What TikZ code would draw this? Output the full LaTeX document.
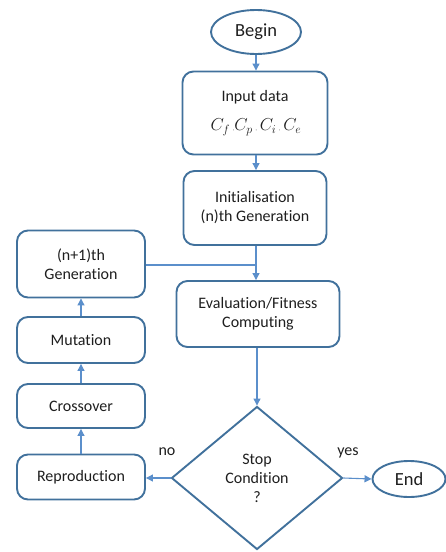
\documentclass[tikz,border=0pt]{standalone}
\usepackage{fontspec}
\setmainfont{Carlito}[Ligatures=NoCommon]
\usetikzlibrary{shapes.geometric,arrows.meta}
\definecolor{boxline}{HTML}{41719C}
\definecolor{flow}{HTML}{5B8FCB}
\definecolor{ink}{HTML}{1E1E1E}
\begin{document}
\begin{tikzpicture}[x=1pt,y=-1pt,
  every node/.style={text=ink, font=\fontsize{16}{19}\selectfont},
  procbox/.style={draw=boxline, line width=1.9pt, rounded corners=11pt, align=center, inner sep=0pt},
  terminal/.style={draw=boxline, line width=1.9pt, ellipse, inner sep=0pt, font=\fontsize{18.5}{22}\selectfont},
  decision/.style={draw=boxline, line width=1.9pt, diamond, inner sep=0pt, align=center},
  flowarrow/.style={draw=flow, line width=1.1pt, -{Triangle[length=7pt,width=7pt]}},
  flowline/.style={draw=flow, line width=1.1pt}]
\useasboundingbox (0,0) rectangle (445,552);

% terminals
\node[terminal, minimum width=90pt, minimum height=44pt] (begin) at (256,32) {Begin};
\node[terminal, minimum width=73pt, minimum height=36pt] (end) at (409,479) {End};

% main column
\node[procbox, minimum width=145pt, minimum height=83pt] (input) at (255,113) {};
\node at (255,97) {Input data};
\node[font=\fontsize{17}{20}\selectfont] at (256,127) {$C_f$\,{\tiny,}$C_p$\,{\tiny,}\,$C_i$\,{\tiny,}\,$C_e$};
\node[procbox, minimum width=143pt, minimum height=74pt] (init) at (255,208) {Initialisation\\(n)th Generation};
\node[procbox, minimum width=163pt, minimum height=66pt] (eval) at (258,314) {Evaluation/Fitness\\Computing};
\node[decision, minimum width=171pt, minimum height=143pt] (stop) at (257,478) {Stop\\Condition\\?};

% genetic operators column
\node[procbox, minimum width=128pt, minimum height=67pt] (nextgen) at (81,264) {(n+1)th\\Generation};
\node[procbox, minimum width=128pt, minimum height=46pt] (mut) at (81,340) {Mutation};
\node[procbox, minimum width=128pt, minimum height=44pt] (cross) at (81,406) {Crossover};
\node[procbox, minimum width=128pt, minimum height=45pt] (repro) at (81,477) {Reproduction};

% connectors
\draw[flowarrow] (begin.south) -- (input.north -| begin.south);
\draw[flowarrow] (input.south -| 256,0) -- (init.north -| 256,0);
\coordinate (join) at (256,265);
\draw[flowarrow] (init.south -| join) -- (eval.north -| join);
\draw[flowline] (nextgen.east |- join) -- (join);
\draw[flowarrow] (eval.south -| stop.north) -- (stop.north);
\draw[flowarrow] (stop.east) -- (end.west);
\draw[flowarrow] (stop.west) -- (repro.east |- stop.west);
\draw[flowarrow] (repro.north) -- (cross.south);
\draw[flowarrow] (cross.north) -- (mut.south);
\draw[flowarrow] (mut.north) -- (nextgen.south);

% branch labels
\node at (167,452) {no};
\node at (348,453) {yes};
\end{tikzpicture}
\end{document}
